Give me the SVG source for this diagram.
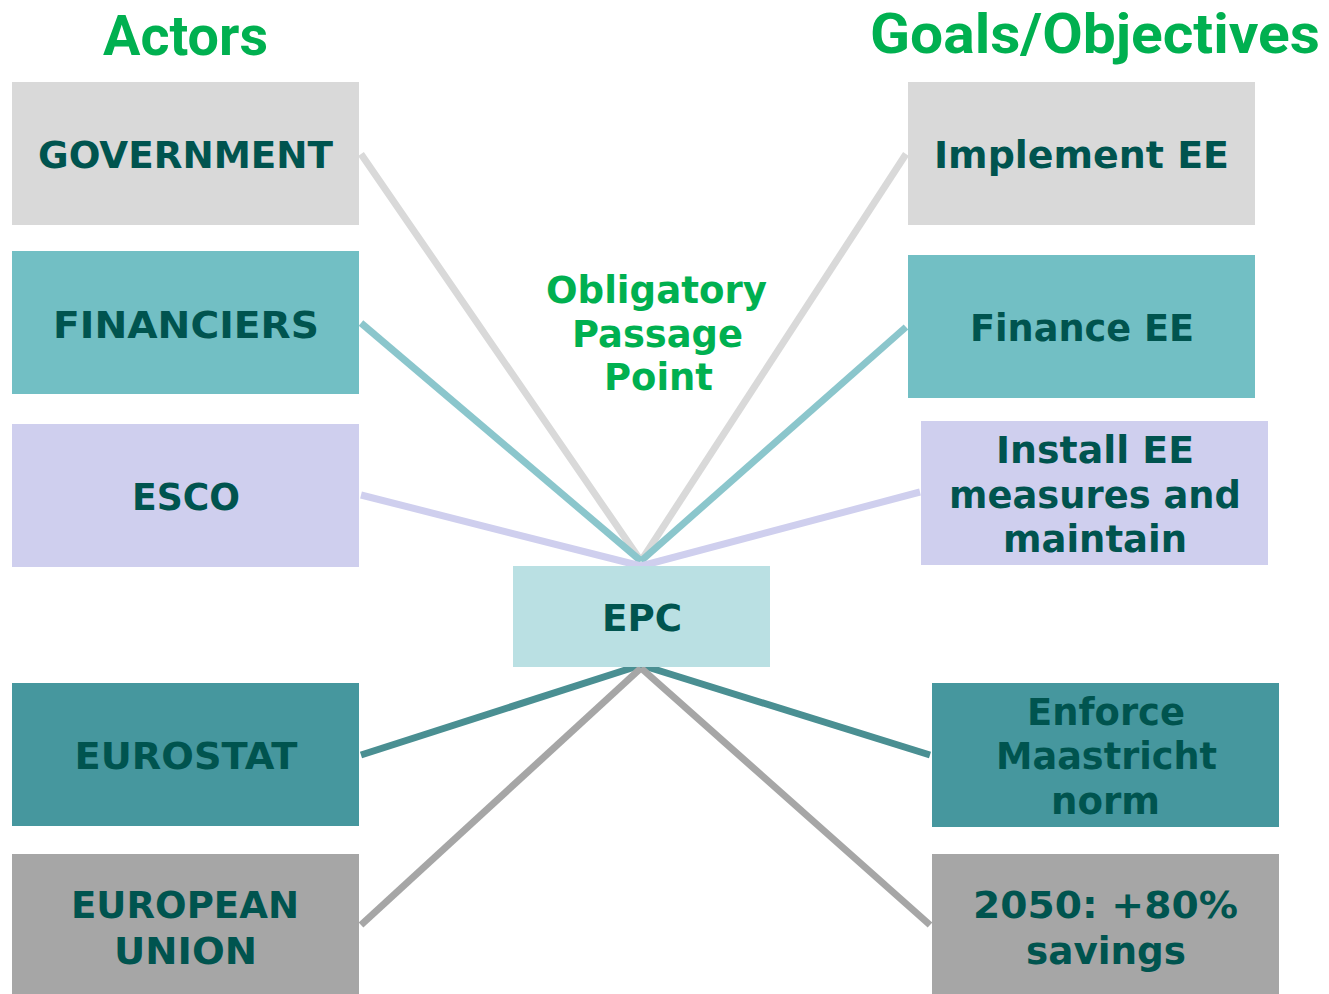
<svg xmlns="http://www.w3.org/2000/svg" width="1329" height="994" viewBox="0 0 1329 994">
<style>
.lbl{font-family:"DejaVu Sans","Verdana",sans-serif;font-weight:bold;font-size:37px;fill:#00544F;text-anchor:middle}
.hdr{font-family:"Roboto","Liberation Sans",sans-serif;font-weight:bold;font-size:55px;fill:#00B050;text-anchor:middle}
.opp{font-family:"DejaVu Sans","Verdana",sans-serif;font-weight:bold;font-size:37px;fill:#00B050;text-anchor:middle}
.c{fill:none;stroke-width:7}
.gray{fill:#D9D9D9}.teal{fill:#72BFC4}.lav{fill:#CFCFEE}.dteal{fill:#46979E}.dgray{fill:#A6A6A6}.epc{fill:#BAE0E3}
</style>
<rect width="1329" height="994" fill="#FFFFFF"/>
<g id="headers">
<text class="hdr" x="185.5" y="55" textLength="165" lengthAdjust="spacingAndGlyphs">Actors</text>
<text class="hdr" x="1095" y="53" textLength="450" lengthAdjust="spacingAndGlyphs">Goals/Objectives</text>
</g>
<g id="connectors">
<line class="c" x1="361" y1="154" x2="641" y2="561" stroke="#D9D9D9"/>
<line class="c" x1="906" y1="154" x2="641" y2="561" stroke="#D9D9D9"/>
<line class="c" x1="361" y1="323" x2="641" y2="561" stroke="#8BC6CC"/>
<line class="c" x1="906" y1="327" x2="641" y2="561" stroke="#8BC6CC"/>
<line class="c" x1="361" y1="495" x2="641" y2="566" stroke="#CFCFEE"/>
<line class="c" x1="920" y1="492" x2="641" y2="566" stroke="#CFCFEE"/>
<line class="c" x1="361" y1="755" x2="641" y2="665" stroke="#4A8F92"/>
<line class="c" x1="930" y1="755" x2="641" y2="665" stroke="#4A8F92"/>
<line class="c" x1="361" y1="925" x2="641" y2="668" stroke="#A6A6A6"/>
<line class="c" x1="930" y1="925" x2="641" y2="668" stroke="#A6A6A6"/>
</g>
<g id="opp">
<text class="opp" x="656.5" y="303" textLength="221" lengthAdjust="spacingAndGlyphs">Obligatory</text>
<text class="opp" x="657.5" y="347" textLength="171" lengthAdjust="spacingAndGlyphs">Passage</text>
<text class="opp" x="658.5" y="390" textLength="109" lengthAdjust="spacingAndGlyphs">Point</text>
</g>
<g id="government"><rect class="gray" x="12" y="82" width="347" height="143"/><text class="lbl" x="185.5" y="168" textLength="295" lengthAdjust="spacingAndGlyphs">GOVERNMENT</text></g>
<g id="financiers"><rect class="teal" x="12" y="251" width="347" height="143"/><text class="lbl" x="186" y="338" textLength="266" lengthAdjust="spacingAndGlyphs">FINANCIERS</text></g>
<g id="esco"><rect class="lav" x="12" y="424" width="347" height="143"/><text class="lbl" x="186" y="510" textLength="108" lengthAdjust="spacingAndGlyphs">ESCO</text></g>
<g id="eurostat"><rect class="dteal" x="12" y="683" width="347" height="143"/><text class="lbl" x="186" y="769" textLength="223" lengthAdjust="spacingAndGlyphs">EUROSTAT</text></g>
<g id="eu"><rect class="dgray" x="12" y="854" width="347" height="140"/><text class="lbl" x="185" y="918" textLength="228" lengthAdjust="spacingAndGlyphs">EUROPEAN</text><text class="lbl" x="185.5" y="964" textLength="143" lengthAdjust="spacingAndGlyphs">UNION</text></g>
<g id="epc"><rect class="epc" x="513" y="566" width="257" height="101"/><text class="lbl" x="642" y="631" textLength="80" lengthAdjust="spacingAndGlyphs">EPC</text></g>
<g id="implement"><rect class="gray" x="908" y="82" width="347" height="143"/><text class="lbl" x="1081.5" y="168" textLength="295" lengthAdjust="spacingAndGlyphs">Implement EE</text></g>
<g id="finance"><rect class="teal" x="908" y="255" width="347" height="143"/><text class="lbl" x="1082" y="341" textLength="224" lengthAdjust="spacingAndGlyphs">Finance EE</text></g>
<g id="install"><rect class="lav" x="921" y="421" width="347" height="144"/><text class="lbl" x="1095" y="463" textLength="198" lengthAdjust="spacingAndGlyphs">Install EE</text><text class="lbl" x="1095" y="508" textLength="292" lengthAdjust="spacingAndGlyphs">measures and</text><text class="lbl" x="1095" y="552" textLength="184" lengthAdjust="spacingAndGlyphs">maintain</text></g>
<g id="enforce"><rect class="dteal" x="932" y="683" width="347" height="144"/><text class="lbl" x="1106" y="725" textLength="158" lengthAdjust="spacingAndGlyphs">Enforce</text><text class="lbl" x="1106.5" y="769" textLength="221" lengthAdjust="spacingAndGlyphs">Maastricht</text><text class="lbl" x="1105.5" y="814" textLength="109" lengthAdjust="spacingAndGlyphs">norm</text></g>
<g id="savings"><rect class="dgray" x="932" y="854" width="347" height="140"/><text class="lbl" x="1105.5" y="918" textLength="265" lengthAdjust="spacingAndGlyphs">2050: +80%</text><text class="lbl" x="1106" y="964" textLength="160" lengthAdjust="spacingAndGlyphs">savings</text></g>
</svg>
